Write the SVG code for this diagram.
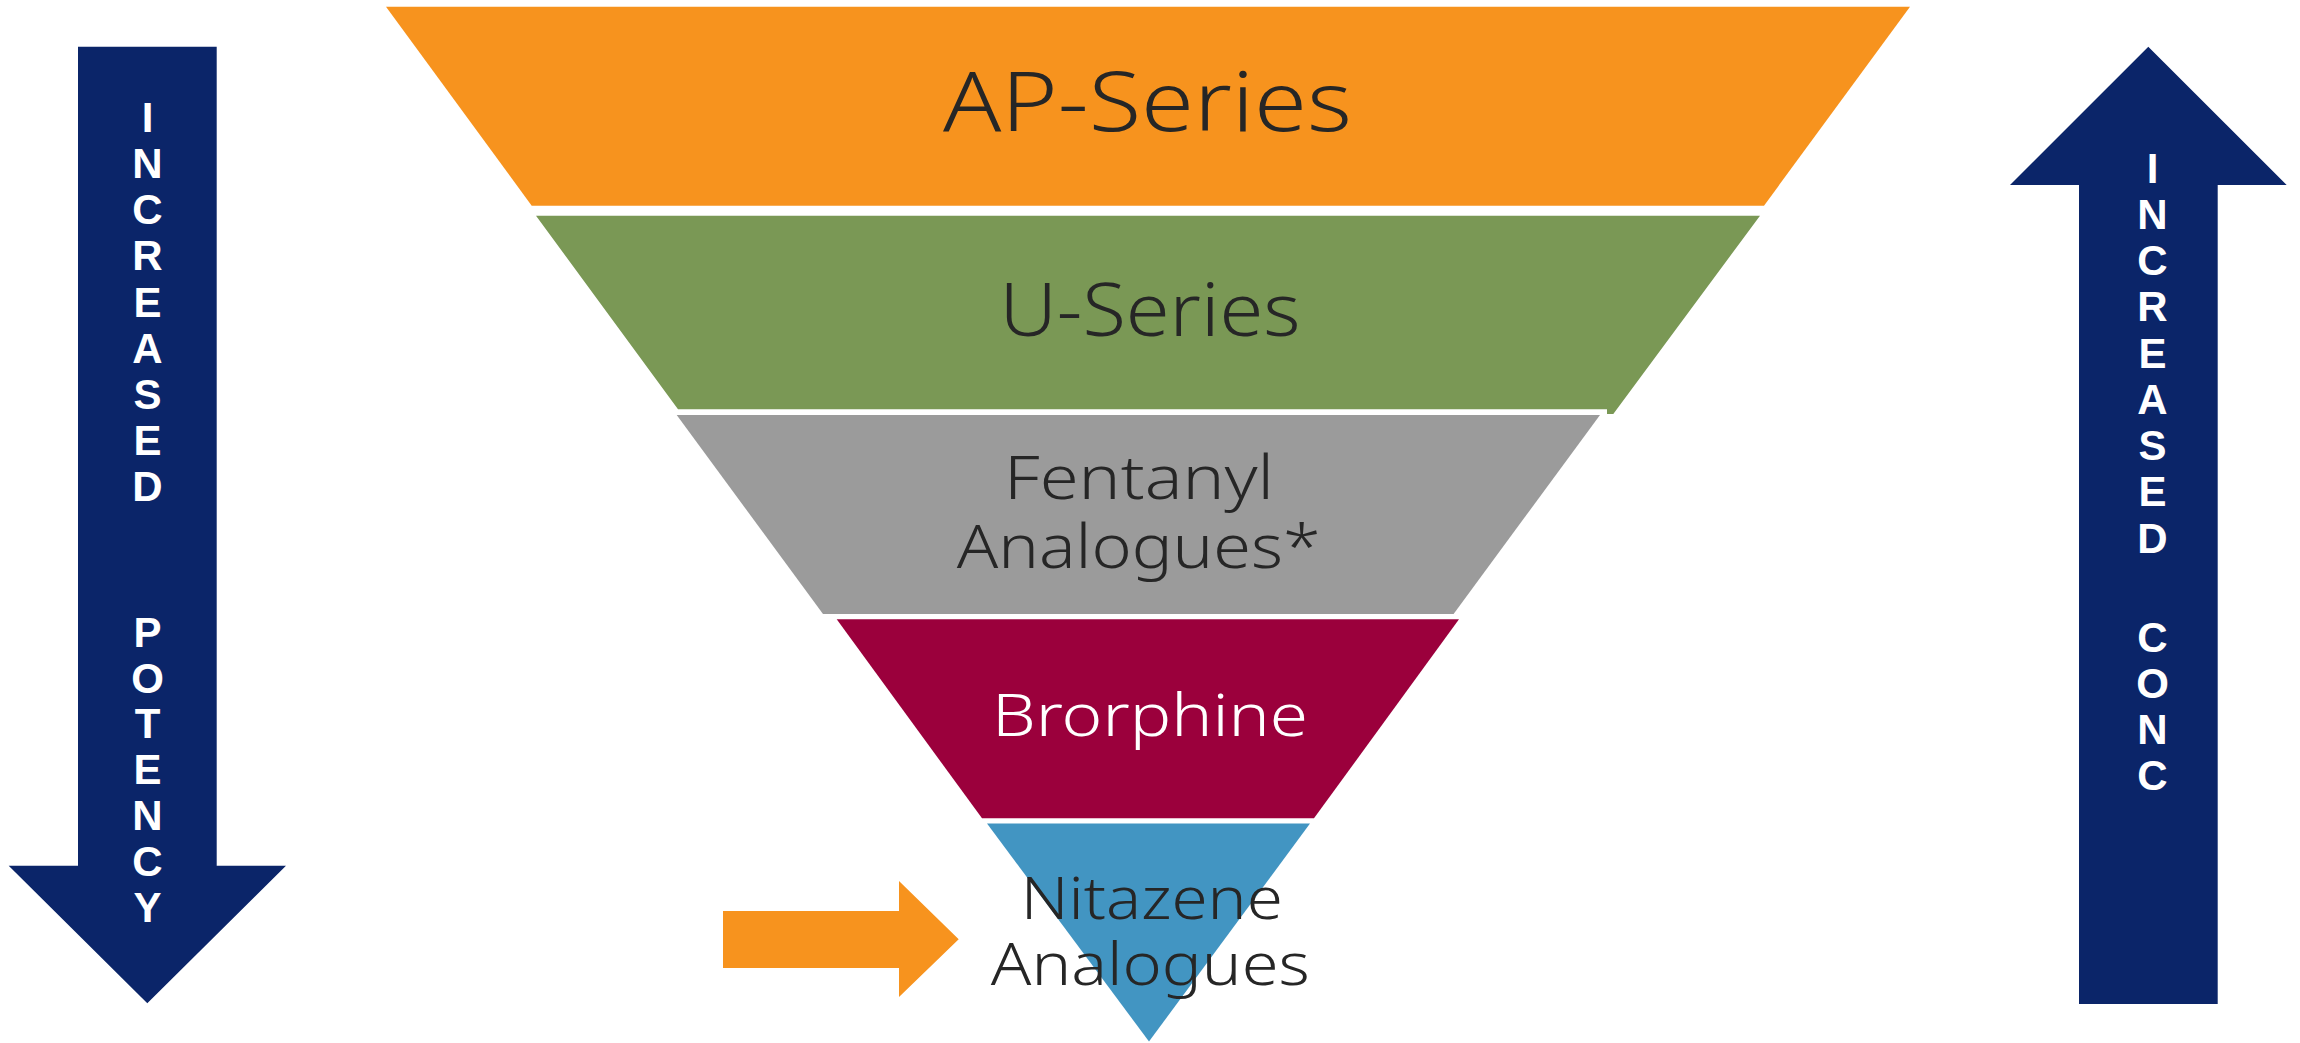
<svg xmlns="http://www.w3.org/2000/svg" width="2300" height="1043" viewBox="0 0 2300 1043">
<style>
.lbl{font-family:"Noto Sans","Open Sans","DejaVu Sans",sans-serif;font-weight:300;fill:#262626;text-anchor:middle}
.vl{font-family:"Liberation Sans","Arial",sans-serif;font-weight:700;font-size:42px;fill:#ffffff;text-anchor:middle}
.navy{fill:#0B2569}
</style>
<rect width="2300" height="1043" fill="#ffffff"/>
<g id="potency-arrow">
<polygon class="navy" points="78,46.7 216.7,46.7 216.7,865.7 286,865.7 147.3,1003.3 8.7,865.7 78,865.7"/>
<text class="vl" x="147.5" y="131.7">I</text>
<text class="vl" x="147.5" y="177.9">N</text>
<text class="vl" x="147.5" y="224.1">C</text>
<text class="vl" x="147.5" y="270.3">R</text>
<text class="vl" x="147.5" y="316.5">E</text>
<text class="vl" x="147.5" y="362.7">A</text>
<text class="vl" x="147.5" y="408.9">S</text>
<text class="vl" x="147.5" y="455.1">E</text>
<text class="vl" x="147.5" y="501.3">D</text>
<text class="vl" x="147.5" y="646.7">P</text>
<text class="vl" x="147.5" y="692.5">O</text>
<text class="vl" x="147.5" y="738.3">T</text>
<text class="vl" x="147.5" y="784.1">E</text>
<text class="vl" x="147.5" y="829.9">N</text>
<text class="vl" x="147.5" y="875.7">C</text>
<text class="vl" x="147.5" y="921.5">Y</text>
</g>
<g id="conc-arrow">
<polygon class="navy" points="2148.3,46.7 2286.7,185 2217.7,185 2217.7,1004 2079,1004 2079,185 2010,185"/>
<text class="vl" x="2152.5" y="182.7">I</text>
<text class="vl" x="2152.5" y="228.9">N</text>
<text class="vl" x="2152.5" y="275.2">C</text>
<text class="vl" x="2152.5" y="321.4">R</text>
<text class="vl" x="2152.5" y="367.7">E</text>
<text class="vl" x="2152.5" y="413.9">A</text>
<text class="vl" x="2152.5" y="460.2">S</text>
<text class="vl" x="2152.5" y="506.4">E</text>
<text class="vl" x="2152.5" y="552.7">D</text>
<text class="vl" x="2152.5" y="651.7">C</text>
<text class="vl" x="2152.5" y="697.7">O</text>
<text class="vl" x="2152.5" y="744">N</text>
<text class="vl" x="2152.5" y="790">C</text>
</g>
<g id="ap-series">
<polygon fill="#F7931E" points="386,6.7 1910,6.7 1764,205.7 531.7,205.7"/>
<text class="lbl" x="1147.5" y="130.7" font-size="82.6" textLength="409" lengthAdjust="spacingAndGlyphs">AP-Series</text>
</g>
<g id="u-series">
<polygon fill="#7A9855" points="536,215.7 1760,215.7 1613.3,414 1607,414 1607,409.3 678,409.3"/>
<text class="lbl" x="1150" y="336" font-size="73" textLength="301" lengthAdjust="spacingAndGlyphs">U-Series</text>
</g>
<g id="fentanyl-analogues">
<polygon fill="#9B9B9B" points="676.7,415 1600,415 1453.6,614 823,614"/>
<text class="lbl" x="1139" y="499" font-size="61" textLength="270" lengthAdjust="spacingAndGlyphs">Fentanyl</text>
<text class="lbl" x="1138.7" y="568.3" font-size="61" textLength="364" lengthAdjust="spacingAndGlyphs">Analogues*</text>
</g>
<g id="brorphine">
<polygon fill="#9B003C" points="836.7,619.3 1459,619.3 1314,818.3 982,818.3"/>
<text class="lbl" x="1150" y="735.7" font-size="59" style="fill:#ffffff" textLength="316" lengthAdjust="spacingAndGlyphs">Brorphine</text>
</g>
<g id="nitazene-analogues">
<polygon fill="#4295C2" points="987,823.5 1310,823.5 1149,1041.5"/>
<text class="lbl" x="1151.8" y="919.3" font-size="58" textLength="262" lengthAdjust="spacingAndGlyphs">Nitazene</text>
<text class="lbl" x="1150.3" y="985" font-size="58" textLength="319" lengthAdjust="spacingAndGlyphs">Analogues</text>
</g>
<g id="connectors">
<polygon fill="#F7931E" points="723,911 899,911 899,881 958.7,939.3 899,997 899,968 723,968"/>
</g>
</svg>
